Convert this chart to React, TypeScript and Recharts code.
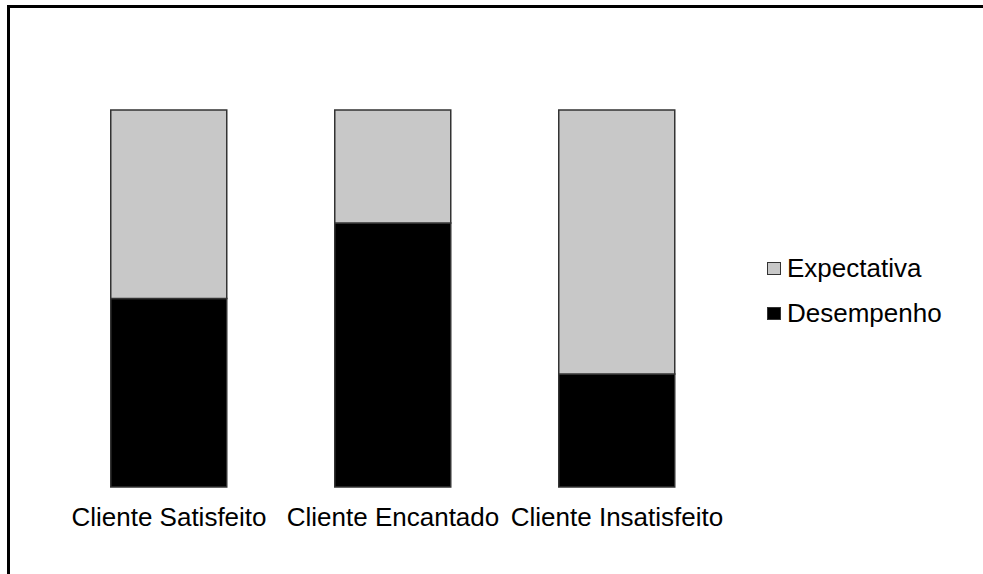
import { BarChart, Bar, XAxis, YAxis, Legend } from "recharts"

// categories and stacked values (percent of the full bar)
const categories = ["Cliente Satisfeito", "Cliente Encantado", "Cliente Insatisfeito"]
const desempenho = [50, 70, 30]
const expectativa = [50, 30, 70]

const data = categories.map((name, i) => ({
  name,
  desempenho: desempenho[i],
  expectativa: expectativa[i],
}))

const FONT = "'Liberation Sans', Arial, sans-serif"

const legendItems = [
  { label: "Expectativa", fill: "#c8c8c8" },
  { label: "Desempenho", fill: "#000000" },
]

const renderLegend = () => (
  <div style={{ fontFamily: FONT, fontSize: 26, color: "#000", width: 200 }}>
    {legendItems.map((item) => (
      <div key={item.label} style={{ display: "flex", alignItems: "center", height: 45 }}>
        <span
          style={{
            display: "inline-block",
            width: 12,
            height: 11,
            background: item.fill,
            border: "1.5px solid #333",
            marginRight: 6,
          }}
        />
        <span>{item.label}</span>
      </div>
    ))}
  </div>
)

export default function App() {
  return (
    <div style={{ position: "absolute", left: 0, top: 0, width: 983, height: 574, overflow: "hidden", background: "#fff" }}>
      <div
        style={{
          position: "absolute",
          left: 7,
          top: 5,
          width: 1100,
          height: 700,
          border: "3px solid #000",
          boxSizing: "border-box",
        }}
      />
      <div style={{ position: "absolute", left: 0, top: 0 }}>
        <BarChart
          width={983}
          height={574}
          data={data}
          margin={{ top: 110, right: 54, left: 57, bottom: 27 }}
          barCategoryGap="24%"
        >
          <XAxis
            dataKey="name"
            axisLine={false}
            tickLine={false}
            height={60}
            tickMargin={15}
            interval={0}
            tick={{ fill: "#000", fontSize: 26, fontFamily: FONT }}
          />
          <YAxis hide domain={[0, 100]} />
          <Legend
            content={renderLegend}
            layout="vertical"
            align="right"
            verticalAlign="middle"
            width={200}
            wrapperStyle={{ left: 767, top: 246, width: 200 }}
          />
          <Bar
            dataKey="desempenho"
            stackId="a"
            fill="#000000"
            stroke="#333"
            strokeWidth={1.5}
            isAnimationActive={false}
          />
          <Bar
            dataKey="expectativa"
            stackId="a"
            fill="#c8c8c8"
            stroke="#333"
            strokeWidth={1.5}
            isAnimationActive={false}
          />
        </BarChart>
      </div>
    </div>
  )
}
